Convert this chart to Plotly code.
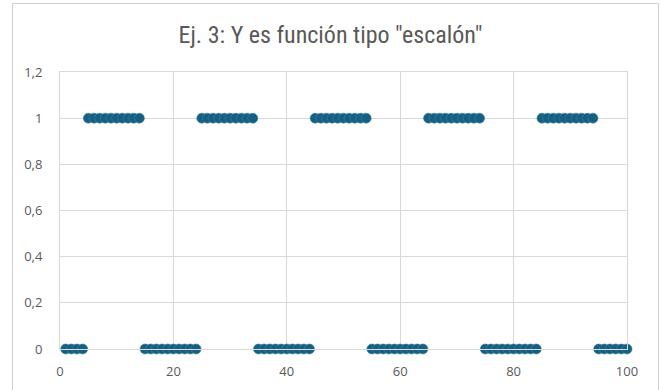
import plotly.graph_objects as go

x_values = [1, 2, 3, 4, 5, 6, 7, 8, 9, 10,
            11, 12, 13, 14, 15, 16, 17, 18, 19, 20,
            21, 22, 23, 24, 25, 26, 27, 28, 29, 30,
            31, 32, 33, 34, 35, 36, 37, 38, 39, 40,
            41, 42, 43, 44, 45, 46, 47, 48, 49, 50,
            51, 52, 53, 54, 55, 56, 57, 58, 59, 60,
            61, 62, 63, 64, 65, 66, 67, 68, 69, 70,
            71, 72, 73, 74, 75, 76, 77, 78, 79, 80,
            81, 82, 83, 84, 85, 86, 87, 88, 89, 90,
            91, 92, 93, 94, 95, 96, 97, 98, 99, 100]
y_values = [0, 0, 0, 0, 1, 1, 1, 1, 1, 1,
            1, 1, 1, 1, 0, 0, 0, 0, 0, 0,
            0, 0, 0, 0, 1, 1, 1, 1, 1, 1,
            1, 1, 1, 1, 0, 0, 0, 0, 0, 0,
            0, 0, 0, 0, 1, 1, 1, 1, 1, 1,
            1, 1, 1, 1, 0, 0, 0, 0, 0, 0,
            0, 0, 0, 0, 1, 1, 1, 1, 1, 1,
            1, 1, 1, 1, 0, 0, 0, 0, 0, 0,
            0, 0, 0, 0, 1, 1, 1, 1, 1, 1,
            1, 1, 1, 1, 0, 0, 0, 0, 0, 0]
title_text = 'Ej. 3: Y es función tipo "escalón"'
x_ticks = [0, 20, 40, 60, 80, 100]
y_ticks = [0, 0.2, 0.4, 0.6, 0.8, 1, 1.2]

marker_color = "#156082"
grid_color = "#d9d9d9"
text_color = "#595959"

fig = go.Figure()
fig.add_trace(go.Scatter(
    x=x_values, y=y_values, mode="markers",
    marker=dict(size=10, color=marker_color, line=dict(width=0.6, color="#3f7f9c")),
    showlegend=False, cliponaxis=False, hoverinfo="skip",
))

L, R, T, B = 60, 34, 72, 41
PW, PH = 661 - L - R, 390 - T - B

def px_x(p):
    return (p - L) / PW

def px_y(p):
    return (390 - B - p) / PH

border = dict(color="#d0d0d0", width=1)
fig.update_layout(
    width=661, height=390,
    margin=dict(l=L, r=R, t=T, b=B, autoexpand=False),
    paper_bgcolor="white", plot_bgcolor="white",
    separators=",.",
    font=dict(family="Open Sans, sans-serif", size=12, color=text_color),
    title=dict(text=title_text, x=0.5, xanchor="center", y=0.912, yanchor="middle",
               font=dict(family="Liberation Sans Narrow, Roboto Condensed, Roboto, sans-serif",
                         size=24, color=text_color)),
    xaxis=dict(range=[0, 100], tickvals=x_ticks, showgrid=True, gridcolor=grid_color,
               gridwidth=1, zeroline=False, showline=True, linecolor=grid_color,
               mirror=True, ticks="", ticklabelstandoff=10, automargin=False,
               tickfont=dict(size=13, color=text_color)),
    yaxis=dict(range=[0, 1.2], tickvals=y_ticks, showgrid=True, gridcolor=grid_color,
               gridwidth=1, zeroline=False, showline=True, linecolor=grid_color,
               mirror=True, ticks="", ticklabelstandoff=14, automargin=False,
               tickfont=dict(size=13, color=text_color)),
    shapes=[
        dict(type="line", xref="paper", yref="paper", x0=px_x(12.5), x1=px_x(12.5),
             y0=px_y(3.5), y1=px_y(390), line=border),
        dict(type="line", xref="paper", yref="paper", x0=px_x(658.5), x1=px_x(658.5),
             y0=px_y(3.5), y1=px_y(390), line=border),
        dict(type="line", xref="paper", yref="paper", x0=px_x(12.5), x1=px_x(658.5),
             y0=px_y(3.5), y1=px_y(3.5), line=border),
    ],
)

fig.write_html("out.html", config={"displayModeBar": False},
               post_script="document.body.style.margin='0';")
